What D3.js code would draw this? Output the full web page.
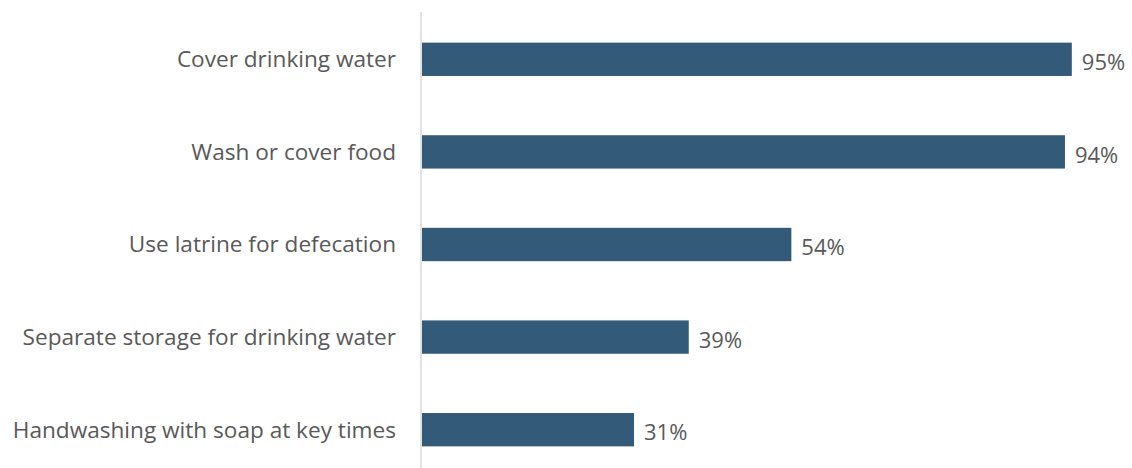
<!DOCTYPE html>
<html><head><meta charset="utf-8">
<script src="https://cdn.jsdelivr.net/npm/d3@7"></script>
<style>body{margin:0;background:#fff}</style>
</head><body>
<svg id="c" width="1132" height="468"></svg>
<script>
const categories = ["Cover drinking water","Wash or cover food","Use latrine for defecation","Separate storage for drinking water","Handwashing with soap at key times"];
const values = [95, 94, 54, 39, 31];

const svg = d3.select("#c");
const x = d3.scaleLinear().domain([0, 100]).range([422, 1106]);
const y = d3.scaleBand().domain(categories).range([13, 476]).paddingInner(0.64).paddingOuter(0.32);
const font = "'Open Sans', 'Noto Sans', sans-serif";

svg.selectAll("rect.bar").data(categories).join("rect")
  .attr("class","bar")
  .attr("x", x(0))
  .attr("y", d => y(d))
  .attr("width", (d,i) => x(values[i]) - x(0))
  .attr("height", y.bandwidth())
  .attr("fill", "#335a78");

svg.append("line").attr("x1", 421).attr("x2", 421).attr("y1", 12).attr("y2", 468)
  .attr("stroke", "#d9d9d9").attr("stroke-width", 1.5);

svg.selectAll("text.cat").data(categories).join("text")
  .attr("class","cat")
  .attr("x", 396)
  .attr("y", d => y(d) + y.bandwidth()/2)
  .attr("dy", "0.35em")
  .attr("text-anchor", "end")
  .attr("font-family", font).attr("font-size", 22.6).attr("fill", "#595959")
  .text(d => d);

svg.selectAll("text.val").data(categories).join("text")
  .attr("class","val")
  .attr("x", (d,i) => x(values[i]) + 10)
  .attr("y", d => y(d) + y.bandwidth()/2 + 3)
  .attr("dy", "0.35em")
  .attr("font-family", font).attr("font-size", 22).attr("fill", "#595959")
  .text((d,i) => values[i] + "%");
</script>
</body></html>
